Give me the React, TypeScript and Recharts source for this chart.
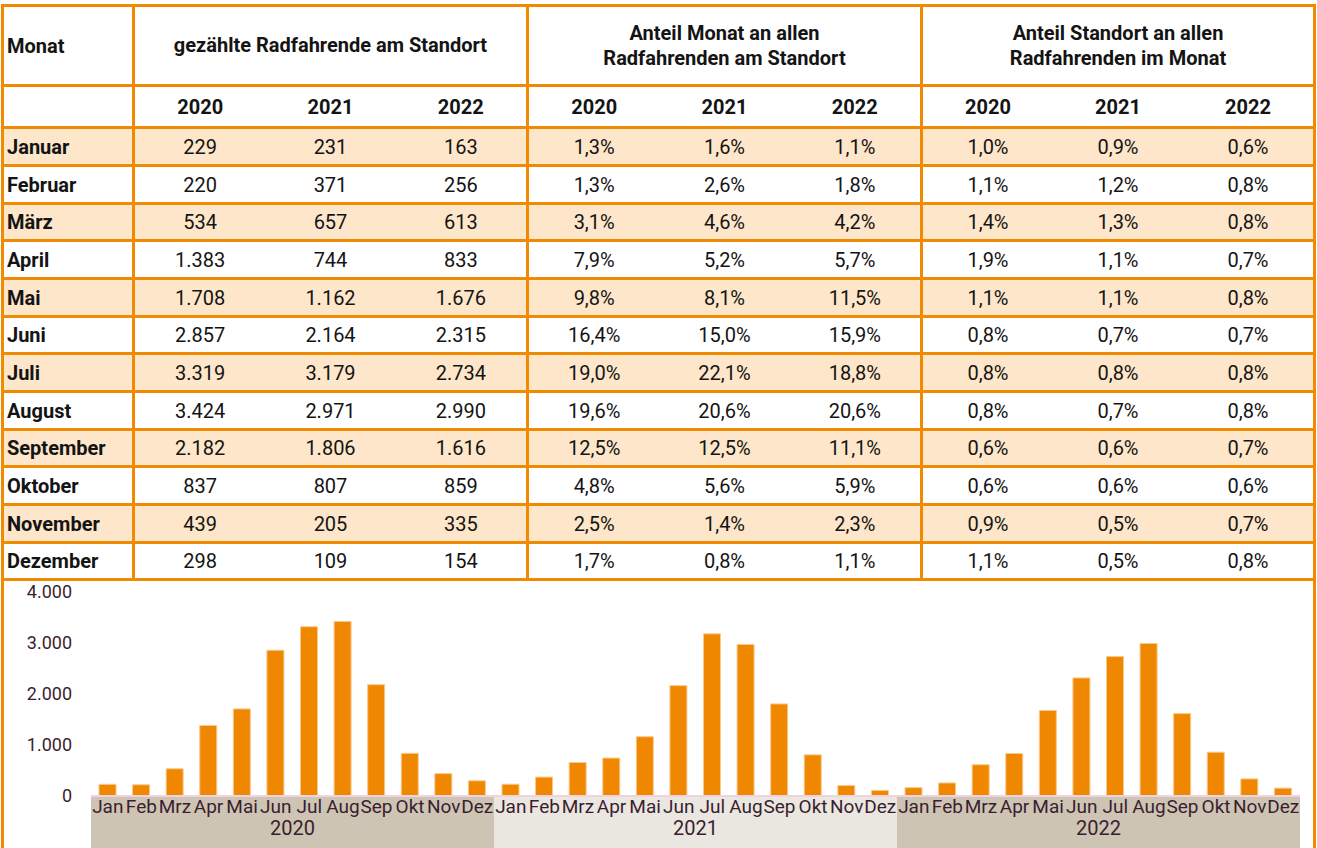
import React from 'react';
import { BarChart, Bar, XAxis, YAxis, ReferenceArea } from 'recharts';

const years = ['2020', '2021', '2022'];
const monthNames = ['Januar', 'Februar', 'März', 'April', 'Mai', 'Juni', 'Juli', 'August', 'September', 'Oktober', 'November', 'Dezember'];
const monthShort = ['Jan', 'Feb', 'Mrz', 'Apr', 'Mai', 'Jun', 'Jul', 'Aug', 'Sep', 'Okt', 'Nov', 'Dez'];

// gezählte Radfahrende am Standort
const counts2020 = [229, 220, 534, 1383, 1708, 2857, 3319, 3424, 2182, 837, 439, 298];
const counts2021 = [231, 371, 657, 744, 1162, 2164, 3179, 2971, 1806, 807, 205, 109];
const counts2022 = [163, 256, 613, 833, 1676, 2315, 2734, 2990, 1616, 859, 335, 154];

// Anteil Monat an allen Radfahrenden am Standort (%)
const shareMonth2020 = [1.3, 1.3, 3.1, 7.9, 9.8, 16.4, 19.0, 19.6, 12.5, 4.8, 2.5, 1.7];
const shareMonth2021 = [1.6, 2.6, 4.6, 5.2, 8.1, 15.0, 22.1, 20.6, 12.5, 5.6, 1.4, 0.8];
const shareMonth2022 = [1.1, 1.8, 4.2, 5.7, 11.5, 15.9, 18.8, 20.6, 11.1, 5.9, 2.3, 1.1];

// Anteil Standort an allen Radfahrenden im Monat (%)
const shareSite2020 = [1.0, 1.1, 1.4, 1.9, 1.1, 0.8, 0.8, 0.8, 0.6, 0.6, 0.9, 1.1];
const shareSite2021 = [0.9, 1.2, 1.3, 1.1, 1.1, 0.7, 0.8, 0.7, 0.6, 0.6, 0.5, 0.5];
const shareSite2022 = [0.6, 0.8, 0.8, 0.7, 0.8, 0.7, 0.8, 0.8, 0.7, 0.6, 0.7, 0.8];

const yTicks = [0, 1000, 2000, 3000, 4000];

const ORANGE = '#F08A00';
const PEACH = '#FDE6C9';
const TAN = '#CEC4B3';
const LIGHT = '#EAE7E0';
const AXIS_TEXT = '#3A1E30';

const countsByYear = [counts2020, counts2021, counts2022];
const shareMonthByYear = [shareMonth2020, shareMonth2021, shareMonth2022];
const shareSiteByYear = [shareSite2020, shareSite2021, shareSite2022];

const fmtInt = (n: number) => String(n).replace(/\B(?=(\d{3})+(?!\d))/g, '.');
const fmtPct = (n: number) => n.toFixed(1).replace('.', ',') + '%';

const chartData = years.flatMap((y, yi) =>
  monthShort.map((m, mi) => ({ key: `${m} ${y}`, value: countsByYear[yi][mi] }))
);

const line = `3px solid ${ORANGE}`;
const groupWidths = [394, 394, 390];

function Group({ values, idx, bold }: { values: string[]; idx: number; bold?: boolean }) {
  return (
    <div
      style={{
        width: groupWidths[idx],
        boxSizing: 'border-box',
        borderRight: idx < 2 ? line : 'none',
        display: 'flex',
        alignItems: 'center',
      }}
    >
      {values.map((v, i) => (
        <div key={i} style={{ flex: 1, textAlign: 'center', fontWeight: bold ? 700 : 400 }}>
          {v}
        </div>
      ))}
    </div>
  );
}

function HeaderCell({ idx, children }: { idx: number; children: React.ReactNode }) {
  return (
    <div
      style={{
        width: groupWidths[idx],
        boxSizing: 'border-box',
        borderRight: idx < 2 ? line : 'none',
        display: 'flex',
        alignItems: 'center',
        justifyContent: 'center',
        textAlign: 'center',
        fontWeight: 700,
        lineHeight: '25px',
      }}
    >
      {children}
    </div>
  );
}

function MonthCell({ children }: { children: React.ReactNode }) {
  return (
    <div
      style={{
        width: 131,
        boxSizing: 'border-box',
        borderRight: line,
        paddingLeft: 3,
        display: 'flex',
        alignItems: 'center',
        fontWeight: 700,
      }}
    >
      {children}
    </div>
  );
}

export default function App() {
  return (
    <div style={{ position: 'absolute', left: 0, top: 0, width: 1317, height: 848, overflow: 'hidden', background: '#fff' }}>
      <div
        style={{
          position: 'absolute',
          left: 1,
          top: 4,
          width: 1315,
          height: 900,
          boxSizing: 'border-box',
          border: line,
          fontFamily: 'Roboto, sans-serif',
          fontSize: 20,
          color: '#141414',
        }}
      >
        <div style={{ display: 'flex', height: 80, boxSizing: 'border-box', borderBottom: line }}>
          <MonthCell>Monat</MonthCell>
          <HeaderCell idx={0}>gezählte Radfahrende am Standort</HeaderCell>
          <HeaderCell idx={1}>
            Anteil Monat an allen
            <br />
            Radfahrenden am Standort
          </HeaderCell>
          <HeaderCell idx={2}>
            Anteil Standort an allen
            <br />
            Radfahrenden im Monat
          </HeaderCell>
        </div>
        <div style={{ display: 'flex', height: 42, boxSizing: 'border-box', borderBottom: line }}>
          <MonthCell>{''}</MonthCell>
          {[0, 1, 2].map((g) => (
            <Group key={g} idx={g} values={years} bold />
          ))}
        </div>
        {monthNames.map((name, mi) => (
          <div
            key={name}
            style={{
              display: 'flex',
              height: mi % 3 === 2 ? 37 : 38,
              boxSizing: 'border-box',
              borderBottom: line,
              background: mi % 2 === 0 ? PEACH : '#fff',
            }}
          >
            <MonthCell>{name}</MonthCell>
            <Group idx={0} values={countsByYear.map((c) => fmtInt(c[mi]))} />
            <Group idx={1} values={shareMonthByYear.map((c) => fmtPct(c[mi]))} />
            <Group idx={2} values={shareSiteByYear.map((c) => fmtPct(c[mi]))} />
          </div>
        ))}
        <div style={{ height: 300 }}>
          <BarChart
            width={1309}
            height={290}
            data={chartData}
            margin={{ top: 11, right: 13, left: 0, bottom: 0 }}
            barCategoryGap={0}
          >
            {years.map((y, i) => (
              <ReferenceArea
                key={y}
                x1={`Jan ${y}`}
                x2={`Dez ${y}`}
                y1={0}
                y2={-1600}
                ifOverflow="visible"
                fill={i % 2 === 0 ? TAN : LIGHT}
                fillOpacity={1}
                stroke="none"
                label={{ value: y, position: 'insideTop', offset: 25, fill: AXIS_TEXT, fontSize: 20 }}
              />
            ))}
            <XAxis
              dataKey="key"
              interval={0}
              tickFormatter={(v: string) => v.split(' ')[0]}
              tickLine={false}
              tickSize={0}
              tickMargin={4}
              axisLine={{ stroke: '#F2D2E2', strokeWidth: 2 }}
              tick={{ fill: AXIS_TEXT, fontSize: 19 }}
              height={75}
            />
            <YAxis
              domain={[0, 4000]}
              ticks={yTicks}
              tickFormatter={fmtInt}
              width={87}
              axisLine={false}
              tickLine={false}
              tickSize={0}
              tickMargin={19}
              tick={{ fill: AXIS_TEXT, fontSize: 18 }}
            />
            <Bar dataKey="value" fill="#F08700" stroke="#F9C98B" strokeWidth={1} barSize={17} isAnimationActive={false} />
          </BarChart>
        </div>
      </div>
    </div>
  );
}
